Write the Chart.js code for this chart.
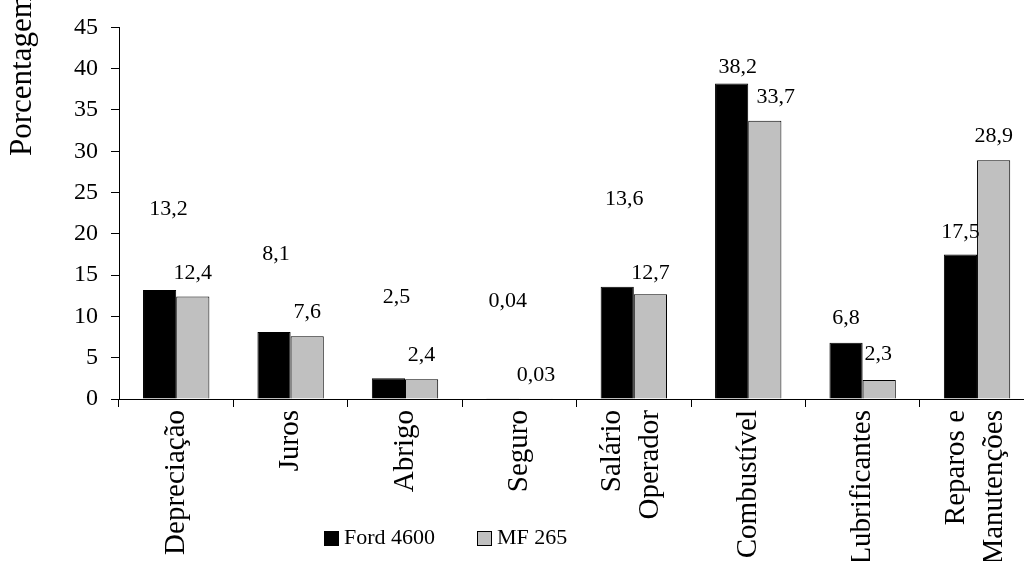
<!DOCTYPE html>
<html>
<head>
<meta charset="utf-8">
<script src="https://cdn.jsdelivr.net/npm/chart.js@4"></script>
<style>
  html, body { margin: 0; padding: 0; background: #fff; overflow: hidden; width: 1024px; height: 561px; }
  #wrap { position: relative; width: 1024px; height: 561px; overflow: hidden; }
  #chart { position: absolute; left: 0; top: 0; }
</style>
</head>
<body>
<div id="wrap"><canvas id="chart" width="1056" height="561"></canvas></div>
<script>
const categories = [
  'Depreciação', 'Juros', 'Abrigo', 'Seguro',
  ['Salário', 'Operador'], 'Combustível', 'Lubrificantes', ['Reparos e', 'Manutenções']
];
const seriesNames = ['Ford 4600', 'MF 265'];
const ford = [13.2, 8.1, 2.5, 0.04, 13.6, 38.2, 6.8, 17.5];
const mf = [12.4, 7.6, 2.4, 0.03, 12.7, 33.7, 2.3, 28.9];
const yTicks = [0, 45, 5]; // min, max, step
const yTitle = 'Porcentagem';

// where the value labels sit relative to the bar tops (px)
const fordLabelDx = [9, 2, 8, 5, 7, 6, 0, 0];
const fordLabelDy = [-81, -78, -81, -97, -87, -16, -25, -22];
const mfLabelDx = [0, 0, 0, 0, 0, 11, -1, 0];
const mfLabelDy = [-23, -24, -24, -24, -21, -23, -26, -24];

const SERIF = '"Liberation Serif", "Times New Roman", serif';

const valueLabels = {
  id: 'valueLabels',
  afterDatasetsDraw(chart) {
    const ctx = chart.ctx;
    ctx.save();
    ctx.font = '22px ' + SERIF;
    ctx.fillStyle = '#000';
    ctx.textAlign = 'center';
    ctx.textBaseline = 'middle';
    const offs = [[fordLabelDx, fordLabelDy], [mfLabelDx, mfLabelDy]];
    chart.data.datasets.forEach((ds, di) => {
      chart.getDatasetMeta(di).data.forEach((bar, i) => {
        const txt = String(ds.data[i]).replace('.', ',');
        ctx.fillText(txt, bar.x + offs[di][0][i], bar.y + offs[di][1][i]);
      });
    });
    ctx.restore();
  }
};

// category names, vertical, multi-line ones centred on the tick
const catLabels = {
  id: 'catLabels',
  afterDraw(chart) {
    const xs = chart.scales.x;
    const ctx = chart.ctx;
    const top = xs.top + 11;
    const lh = 38;
    ctx.save();
    ctx.font = '29px ' + SERIF;
    ctx.fillStyle = '#000';
    ctx.textAlign = 'right';
    ctx.textBaseline = 'middle';
    chart.data.labels.forEach((lab, i) => {
      const lines = Array.isArray(lab) ? lab : [lab];
      const cx = xs.getPixelForTick(i) - (lines.length > 1 ? 2 : 0);
      lines.forEach((ln, j) => {
        const x = cx + (j - (lines.length - 1) / 2) * lh;
        ctx.save();
        ctx.translate(x, top);
        ctx.rotate(-Math.PI / 2);
        ctx.fillText(ln, 0, 0);
        ctx.restore();
      });
    });
    ctx.restore();
  }
};

const extras = {
  id: 'extras',
  afterDraw(chart) {
    const ctx = chart.ctx;
    ctx.save();
    // y axis title, runs off the top like the original
    ctx.font = '31px ' + SERIF;
    ctx.fillStyle = '#000';
    ctx.translate(23, 156);
    ctx.rotate(-Math.PI / 2);
    ctx.textAlign = 'left';
    ctx.textBaseline = 'middle';
    ctx.fillText(yTitle, 0, 0);
    ctx.restore();

    // legend
    ctx.save();
    ctx.font = '22px ' + SERIF;
    ctx.textBaseline = 'middle';
    ctx.textAlign = 'left';
    const lx = [324, 477];
    const ly = 538;
    chart.data.datasets.forEach((ds, i) => {
      ctx.fillStyle = ds.backgroundColor;
      ctx.fillRect(lx[i], ly - 7, 15, 15);
      ctx.strokeStyle = '#000';
      ctx.lineWidth = 1;
      ctx.strokeRect(lx[i] + 0.5, ly - 6.5, 14, 14);
      ctx.fillStyle = '#000';
      ctx.fillText(ds.label, lx[i] + 20, ly);
    });
    ctx.restore();
  }
};

new Chart(document.getElementById('chart'), {
  type: 'bar',
  data: {
    labels: categories,
    datasets: [
      { label: seriesNames[0], data: ford, backgroundColor: '#000000', borderColor: '#000', borderWidth: 1 },
      { label: seriesNames[1], data: mf, backgroundColor: '#c0c0c0', borderColor: '#000', borderWidth: 1 }
    ]
  },
  options: {
    responsive: false,
    animation: false,
    layout: { padding: { top: 21, right: 9, left: 0, bottom: 0 } },
    categoryPercentage: 0.58,
    barPercentage: 1.0,
    plugins: {
      legend: { display: false },
      tooltip: { enabled: false }
    },
    scales: {
      x: {
        afterFit: s => { s.height = 162; },
        border: { color: '#000', width: 1 },
        grid: { display: true, drawOnChartArea: false, tickLength: 8, color: '#000', offset: true },
        ticks: {
          autoSkip: false, minRotation: 90, maxRotation: 90, padding: 3,
          color: 'rgba(0,0,0,0)', font: { family: SERIF, size: 29, lineHeight: 1.3 }
        }
      },
      y: {
        min: yTicks[0], max: yTicks[1],
        afterFit: s => { s.width = 119; },
        border: { color: '#000', width: 1 },
        grid: { display: true, drawOnChartArea: false, tickLength: 8, color: '#000' },
        ticks: { stepSize: yTicks[2], padding: 13, color: '#000', font: { family: SERIF, size: 24 } }
      }
    }
  },
  plugins: [valueLabels, catLabels, extras]
});
</script>
</body>
</html>
